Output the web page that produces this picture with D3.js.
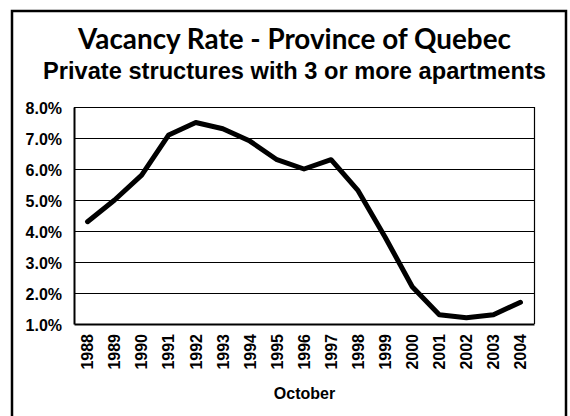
<!DOCTYPE html>
<html>
<head>
<meta charset="utf-8">
<script src="https://cdn.jsdelivr.net/npm/d3@7"></script>
<style>
  html, body { margin: 0; padding: 0; background: #fff; }
  svg { display: block; }
</style>
</head>
<body>
<svg id="chart" width="570" height="416"></svg>
<script>
const years = ["1988","1989","1990","1991","1992","1993","1994","1995","1996","1997","1998","1999","2000","2001","2002","2003","2004"];
const vacancyRate = [4.3, 5.0, 5.8, 7.1, 7.5, 7.3, 6.9, 6.3, 6.0, 6.3, 5.3, 3.8, 2.2, 1.3, 1.2, 1.3, 1.7];
const yTicks = [1, 2, 3, 4, 5, 6, 7, 8];
const titleText = "Vacancy Rate - Province of Quebec";
const subtitleText = "Private structures with 3 or more apartments";
const xAxisTitle = "October";

const svg = d3.select("#chart");
const W = 570, H = 416;
const plot = { left: 74, right: 534, top: 107, bottom: 324 };

svg.append("rect").attr("width", W).attr("height", H).attr("fill", "#fff");

// outer frame (bottom edge runs off the canvas)
svg.append("rect")
  .attr("x", 12).attr("y", 11).attr("width", 554).attr("height", 420)
  .attr("fill", "none").attr("stroke", "#000").attr("stroke-width", 2.5);

function fitText(sel, targetWidth) {
  const node = sel.node();
  const size = parseFloat(sel.attr("font-size"));
  const w = node.getComputedTextLength();
  sel.attr("font-size", (size * targetWidth / w).toFixed(2));
}

const title = svg.append("text")
  .attr("x", 294.5).attr("y", 49)
  .attr("text-anchor", "middle")
  .attr("font-family", "Lato, 'Open Sans', sans-serif")
  .attr("font-weight", "bold")
  .attr("font-size", 24)
  .attr("fill", "#000")
  .text(titleText);
fitText(title, 433);

const subtitle = svg.append("text")
  .attr("x", 294.5).attr("y", 78.5)
  .attr("text-anchor", "middle")
  .attr("font-family", "'Liberation Sans', Arial, sans-serif")
  .attr("font-weight", "bold")
  .attr("font-size", 19)
  .attr("fill", "#000")
  .text(subtitleText);
fitText(subtitle, 503);

const x = d3.scaleBand().domain(years).range([plot.left, plot.right]).padding(0);
const y = d3.scaleLinear().domain([1, 8]).range([plot.bottom, plot.top]);

// gridlines
svg.append("g")
  .selectAll("line")
  .data(yTicks.filter(t => t > 1 && t < 8))
  .join("line")
  .attr("x1", plot.left).attr("x2", plot.right)
  .attr("y1", d => Math.round(y(d)) + 0.5).attr("y2", d => Math.round(y(d)) + 0.5)
  .attr("stroke", "#000").attr("stroke-width", 1);

// plot border (top & right thin)
svg.append("path")
  .attr("d", `M${plot.left},${plot.top + 0.5}H${plot.right + 0.5}V${plot.bottom}`)
  .attr("fill", "none").attr("stroke", "#000").attr("stroke-width", 1.2);

// y axis
const yAxis = d3.axisLeft(y).tickValues(yTicks).tickSize(0).tickPadding(12)
  .tickFormat(d => d.toFixed(1) + "%");
const gy = svg.append("g").attr("transform", `translate(${plot.left},0)`).call(yAxis);
gy.select(".domain").attr("stroke", "#000").attr("stroke-width", 2);
gy.selectAll("text")
  .attr("font-family", "'Liberation Sans', Arial, sans-serif")
  .attr("font-weight", "bold")
  .attr("font-size", 16)
  .attr("fill", "#000")
  .attr("dy", "0.38em");

// x axis
const xAxis = d3.axisBottom(x).tickSize(0).tickPadding(0);
const gx = svg.append("g").attr("transform", `translate(0,${plot.bottom})`).call(xAxis);
gx.select(".domain").attr("stroke", "#000").attr("stroke-width", 2.2);
gx.selectAll("text")
  .attr("font-family", "'Liberation Sans', Arial, sans-serif")
  .attr("font-weight", "bold")
  .attr("font-size", 16)
  .attr("fill", "#000")
  .attr("text-anchor", "end")
  .attr("transform", "rotate(-90)")
  .attr("x", -10)
  .attr("y", 0)
  .attr("dy", "0.36em");

// x axis title
svg.append("text")
  .attr("x", 304.5).attr("y", 398.5)
  .attr("text-anchor", "middle")
  .attr("font-family", "'Liberation Sans', Arial, sans-serif")
  .attr("font-weight", "bold")
  .attr("font-size", 16)
  .attr("fill", "#000")
  .text(xAxisTitle);

// line
const line = d3.line()
  .x((d, i) => x(years[i]) + x.bandwidth() / 2)
  .y(d => y(d));
svg.append("path")
  .datum(vacancyRate)
  .attr("d", line)
  .attr("fill", "none")
  .attr("stroke", "#000")
  .attr("stroke-width", 5)
  .attr("stroke-linejoin", "round")
  .attr("stroke-linecap", "round");
</script>
</body>
</html>
